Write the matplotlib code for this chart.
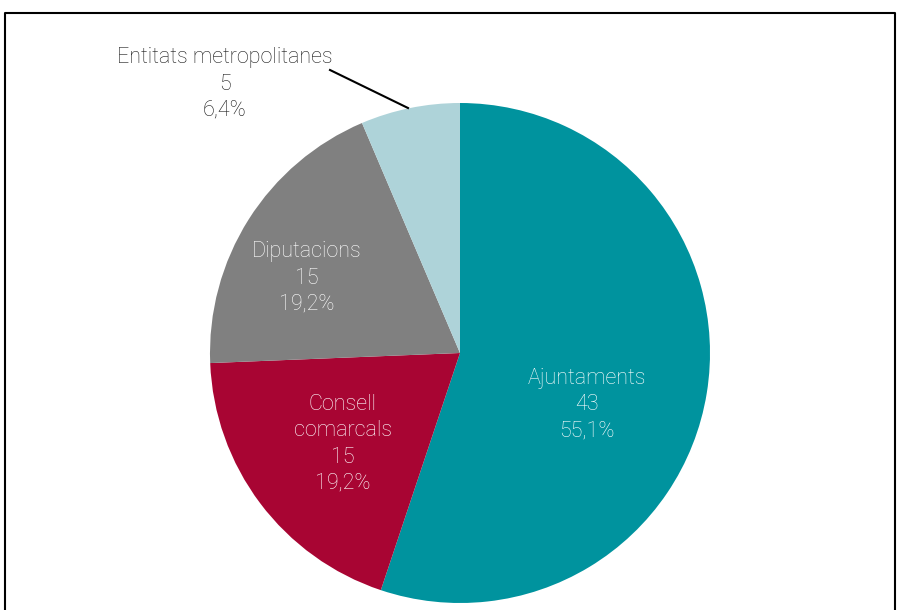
import matplotlib.pyplot as plt
import numpy as np

# dades
categories = ['Ajuntaments', 'Consell\ncomarcals', 'Diputacions', 'Entitats metropolitanes']
valors = [43, 15, 15, 5]
percentatges = ['55,1%', '19,2%', '19,2%', '6,4%']
colors = ['#00939E', '#A80533', '#808080', '#AED3D9']

W, H = 898, 610
fig = plt.figure(figsize=(W / 100, H / 100), dpi=100)
ax = fig.add_axes([0, 0, 1, 1])

# marc (la part de baix queda fora de la imatge)
ax.plot([4.5, 4.5, 895, 895], [-10, H - 12.5, H - 12.5, -10], color='black', lw=1.5)

cx, cy, r = 460, H - 353, 250
ax.pie(valors, colors=colors, startangle=90, counterclock=False, center=(cx, cy),
       radius=r, wedgeprops=dict(linewidth=0), frame=True)
ax.set_xlim(0, W)
ax.set_ylim(0, H)
ax.set_aspect('equal')
ax.axis('off')

font = dict(family='Roboto', weight='light', fontsize=15.5, ha='center', va='center',
            linespacing=1.32)
# posicions de les etiquetes (pixels)
pos = [(587, 405), (343, 444), (307, 278)]
for (x, y), c, v, p in zip(pos, categories, valors, percentatges):
    ax.text(x, H - y, f'{c}\n{v}\n{p}', color='white', **font)

ax.text(225, H - 84, f'{categories[3]}\n{valors[3]}\n{percentatges[3]}', color='#1a1a1a', **font)
ax.plot([330, 408], [H - 70, H - 108], color='black', lw=1.5)

fig.savefig('out.png', dpi=100)
